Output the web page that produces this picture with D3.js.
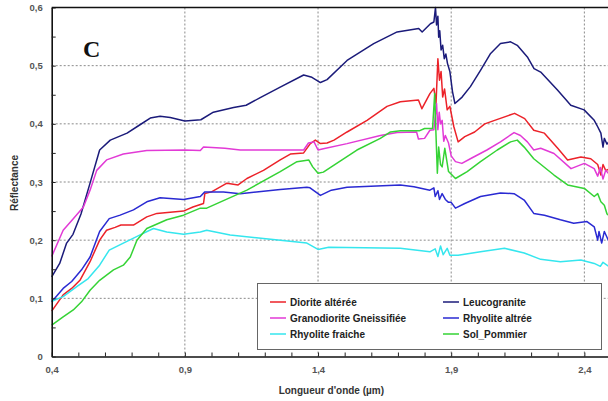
<!DOCTYPE html>
<html>
<head>
<meta charset="utf-8">
<script src="https://cdn.jsdelivr.net/npm/d3@7"></script>
<style>
  body { margin: 0; background: #fff; }
  svg { display: block; font-family: Arial, "Liberation Sans", sans-serif; }
</style>
</head>
<body>
<svg id="graph" width="608" height="401"></svg>
<script>
// wavelength (µm), reflectance pairs
const diorite = [[0.4,0.078],[0.443,0.106],[0.475,0.117],[0.506,0.131],[0.544,0.163],[0.58,0.2],[0.606,0.217],[0.638,0.222],[0.66,0.226],[0.707,0.226],[0.757,0.24],[0.795,0.246],[0.895,0.25],[0.93,0.257],[0.97,0.263],[0.975,0.28],[1.0,0.283],[1.058,0.298],[1.1,0.295],[1.133,0.306],[1.195,0.32],[1.258,0.338],[1.296,0.348],[1.346,0.35],[1.371,0.366],[1.39,0.372],[1.409,0.366],[1.434,0.367],[1.46,0.372],[1.509,0.386],[1.584,0.406],[1.659,0.43],[1.709,0.438],[1.777,0.441],[1.79,0.426],[1.82,0.452],[1.835,0.461],[1.843,0.435],[1.85,0.512],[1.856,0.475],[1.862,0.49],[1.868,0.446],[1.875,0.46],[1.885,0.424],[1.895,0.43],[1.91,0.395],[1.926,0.369],[1.951,0.378],[1.988,0.386],[2.026,0.4],[2.063,0.406],[2.138,0.418],[2.176,0.409],[2.21,0.389],[2.25,0.384],[2.3,0.358],[2.337,0.338],[2.387,0.343],[2.424,0.34],[2.45,0.33],[2.462,0.312],[2.47,0.33],[2.48,0.32],[2.5,0.323]]

const leucogranite = [[0.4,0.137],[0.43,0.16],[0.456,0.195],[0.48,0.21],[0.51,0.245],[0.544,0.298],[0.58,0.355],[0.62,0.372],[0.683,0.384],[0.73,0.398],[0.77,0.41],[0.807,0.413],[0.845,0.411],[0.9,0.405],[0.96,0.407],[1.007,0.42],[1.083,0.428],[1.13,0.432],[1.183,0.445],[1.258,0.463],[1.346,0.484],[1.377,0.48],[1.409,0.471],[1.434,0.476],[1.509,0.509],[1.609,0.538],[1.697,0.558],[1.778,0.564],[1.791,0.558],[1.822,0.572],[1.835,0.575],[1.841,0.6],[1.845,0.57],[1.85,0.585],[1.853,0.549],[1.857,0.56],[1.862,0.527],[1.868,0.535],[1.874,0.512],[1.88,0.52],[1.886,0.504],[1.895,0.49],[1.905,0.455],[1.914,0.435],[1.941,0.446],[1.972,0.464],[2.01,0.492],[2.048,0.521],[2.085,0.538],[2.123,0.541],[2.148,0.535],[2.186,0.515],[2.211,0.495],[2.236,0.489],[2.299,0.458],[2.349,0.432],[2.399,0.424],[2.437,0.406],[2.45,0.395],[2.462,0.384],[2.47,0.36],[2.475,0.375],[2.485,0.365],[2.5,0.375]]

const granodiorite = [[0.4,0.172],[0.443,0.217],[0.481,0.237],[0.519,0.257],[0.544,0.286],[0.569,0.32],[0.606,0.338],[0.669,0.348],[0.757,0.354],[0.9,0.355],[0.958,0.354],[0.97,0.36],[1.05,0.358],[1.108,0.355],[1.346,0.355],[1.364,0.367],[1.385,0.369],[1.4,0.355],[1.42,0.357],[1.509,0.366],[1.634,0.38],[1.697,0.385],[1.77,0.386],[1.777,0.374],[1.8,0.375],[1.82,0.389],[1.835,0.39],[1.845,0.435],[1.85,0.39],[1.855,0.42],[1.86,0.4],[1.866,0.406],[1.872,0.37],[1.878,0.38],[1.89,0.367],[1.9,0.345],[1.916,0.335],[1.94,0.332],[1.972,0.34],[2.034,0.355],[2.085,0.369],[2.136,0.385],[2.16,0.38],[2.186,0.369],[2.21,0.355],[2.236,0.358],[2.286,0.349],[2.35,0.323],[2.4,0.332],[2.437,0.323],[2.45,0.31],[2.46,0.325],[2.47,0.305],[2.48,0.32],[2.5,0.31]]

const rhyoliteAlt = [[0.4,0.094],[0.443,0.117],[0.475,0.129],[0.512,0.149],[0.544,0.171],[0.58,0.215],[0.616,0.237],[0.657,0.243],[0.707,0.252],[0.757,0.266],[0.807,0.273],[0.895,0.27],[0.958,0.275],[0.975,0.283],[1.045,0.283],[1.108,0.28],[1.258,0.287],[1.358,0.291],[1.37,0.29],[1.409,0.277],[1.45,0.286],[1.509,0.291],[1.709,0.295],[1.76,0.292],[1.82,0.286],[1.835,0.29],[1.84,0.275],[1.85,0.285],[1.856,0.27],[1.866,0.28],[1.878,0.27],[1.89,0.265],[1.9,0.265],[1.916,0.255],[1.951,0.263],[2.01,0.275],[2.085,0.281],[2.136,0.28],[2.174,0.269],[2.21,0.246],[2.25,0.243],[2.31,0.235],[2.36,0.229],[2.41,0.232],[2.437,0.223],[2.45,0.2],[2.455,0.215],[2.465,0.195],[2.475,0.215],[2.49,0.2],[2.5,0.22]]

const rhyoliteFr = [[0.4,0.095],[0.443,0.103],[0.494,0.12],[0.537,0.134],[0.58,0.157],[0.616,0.183],[0.669,0.195],[0.732,0.209],[0.782,0.22],[0.832,0.214],[0.895,0.21],[0.958,0.214],[0.982,0.217],[1.07,0.209],[1.195,0.203],[1.358,0.195],[1.4,0.184],[1.44,0.188],[1.709,0.186],[1.82,0.18],[1.84,0.185],[1.85,0.172],[1.86,0.19],[1.87,0.175],[1.885,0.186],[1.895,0.174],[1.926,0.174],[2.01,0.18],[2.1,0.186],[2.174,0.178],[2.236,0.167],[2.31,0.163],[2.387,0.166],[2.437,0.16],[2.46,0.155],[2.47,0.162],[2.5,0.152]]

const solPommier = [[0.4,0.054],[0.443,0.068],[0.481,0.08],[0.512,0.094],[0.544,0.114],[0.58,0.131],[0.632,0.149],[0.669,0.157],[0.695,0.171],[0.72,0.2],[0.757,0.22],[0.832,0.235],[0.895,0.243],[0.958,0.255],[0.982,0.255],[1.133,0.286],[1.258,0.318],[1.321,0.335],[1.365,0.338],[1.38,0.326],[1.4,0.315],[1.42,0.317],[1.47,0.332],[1.546,0.355],[1.634,0.375],[1.672,0.386],[1.709,0.388],[1.78,0.388],[1.8,0.392],[1.83,0.392],[1.838,0.452],[1.843,0.38],[1.848,0.315],[1.853,0.36],[1.86,0.33],[1.866,0.326],[1.876,0.358],[1.89,0.318],[1.916,0.306],[1.96,0.318],[2.01,0.335],[2.073,0.355],[2.123,0.369],[2.148,0.372],[2.174,0.36],[2.21,0.34],[2.286,0.312],[2.337,0.295],[2.4,0.289],[2.437,0.275],[2.45,0.28],[2.462,0.266],[2.475,0.26],[2.485,0.245],[2.5,0.24]]

const seriesNames = ["Diorite altérée", "Leucogranite", "Granodiorite Gneissifiée", "Rhyolite altrée", "Rhyolite fraiche", "Sol_Pommier"]
const seriesData = [diorite, leucogranite, granodiorite, rhyoliteAlt, rhyoliteFr, solPommier]
const seriesColors = ["#ec2229", "#1b1b7a", "#e23ad6", "#2a2ad2", "#35e6ee", "#35d335"]

const xTicks = [0.4, 0.9, 1.4, 1.9, 2.4]
const yTicks = [0, 0.1, 0.2, 0.3, 0.4, 0.5, 0.6]

const svg = d3.select("#graph")

const plotLeft = 51.7, plotRight = 611, plotTop = 7.5, plotBottom = 356.5

let x = d3.scaleLinear().domain([0.4, 2.5]).range([plotLeft, plotRight])
let y = d3.scaleLinear().domain([0, 0.6]).range([plotBottom, plotTop])

const fmt = d => d === 0 ? "0" : d3.format(".1f")(d).replace(".", ",")

// dotted grid
const grid = svg.append("g").attr("stroke", "#8a8a8a").attr("stroke-dasharray", "2,2").attr("stroke-width", 1)
grid.selectAll(".gx")
    .data(xTicks.slice(1))
    .enter().append("line")
    .attr("x1", d => x(d)).attr("x2", d => x(d))
    .attr("y1", plotTop).attr("y2", plotBottom)
grid.selectAll(".gy")
    .data(yTicks.slice(1, -1))
    .enter().append("line")
    .attr("x1", plotLeft).attr("x2", plotRight)
    .attr("y1", d => y(d)).attr("y2", d => y(d))

// curves
const line = d3.line().x(d => x(d[0])).y(d => y(d[1]))
const plot = svg.append("g")
seriesData.forEach((s, i) => {
    plot.append("path")
        .datum(s)
        .attr("fill", "none")
        .attr("stroke", seriesColors[i])
        .attr("stroke-width", 1.5)
        .attr("stroke-linejoin", "round")
        .attr("d", line)
})

// axes, ticks pointing inward
let x_axis = d3.axisBottom(x)
    .tickValues(d3.range(4, 26).map(d => d / 10))
    .tickSizeInner(-4).tickSizeOuter(0)
    .tickFormat(d => xTicks.some(t => Math.abs(t - d) < 1e-6) ? fmt(d) : "")
let y_axis = d3.axisLeft(y)
    .tickValues(d3.range(0, 13).map(d => d / 20))
    .tickSizeInner(-4).tickSizeOuter(0)
    .tickFormat(d => yTicks.some(t => Math.abs(t - d) < 1e-6) ? fmt(d) : "")

const gx = svg.append("g")
    .attr("transform", `translate(0, ${plotBottom})`)
    .call(x_axis)
const gy = svg.append("g")
    .attr("transform", `translate(${plotLeft}, 0)`)
    .call(y_axis)

;[gx, gy].forEach(g => {
    g.select(".domain").attr("stroke", "#111").attr("stroke-width", 1.6)
    g.selectAll(".tick line").attr("stroke", "#222")
    g.selectAll(".tick text")
        .attr("font-size", 9.5).attr("font-weight", "bold")
        .attr("fill", "#555").attr("font-family", "Arial, 'Liberation Sans', sans-serif")
})
gx.selectAll(".tick text").attr("y", 10)
gy.selectAll(".tick text").attr("x", -9)

// top border
svg.append("line")
    .attr("x1", plotLeft).attr("x2", plotRight)
    .attr("y1", plotTop).attr("y2", plotTop)
    .attr("stroke", "#111").attr("stroke-width", 1.6)

// titles
svg.append("text")
    .attr("x", (plotLeft + plotRight) / 2).attr("y", 394)
    .attr("text-anchor", "middle")
    .attr("font-size", 10).attr("font-weight", "bold").attr("fill", "#333")
    .text("Longueur d'onde (µm)")

svg.append("text")
    .attr("transform", "translate(18, 183) rotate(-90)")
    .attr("text-anchor", "middle")
    .attr("font-size", 10).attr("font-weight", "bold").attr("fill", "#333")
    .text("Réflectance")

svg.append("text")
    .attr("x", 83).attr("y", 57)
    .attr("font-family", "'Liberation Serif', 'DejaVu Serif', serif")
    .attr("font-size", 24).attr("font-weight", "bold").attr("fill", "#111")
    .text("C")

// legend
const legend = svg.append("g")
legend.append("rect")
    .attr("x", 257.5).attr("y", 283.5).attr("width", 344).attr("height", 66)
    .attr("fill", "#fff").attr("stroke", "#666").attr("stroke-width", 1)

const items = legend.selectAll(".item")
    .data(seriesNames)
    .enter().append("g")
    .attr("transform", (d, i) => `translate(${i % 2 ? 443 : 270}, ${302 + Math.floor(i / 2) * 16})`)
items.append("line")
    .attr("x1", 0).attr("x2", 16)
    .attr("stroke", (d, i) => seriesColors[i]).attr("stroke-width", 1.5)
items.append("text")
    .attr("x", 20).attr("y", 3.5)
    .attr("font-size", 10).attr("font-weight", "bold").attr("fill", "#222")
    .text(d => d)
</script>
</body>
</html>
